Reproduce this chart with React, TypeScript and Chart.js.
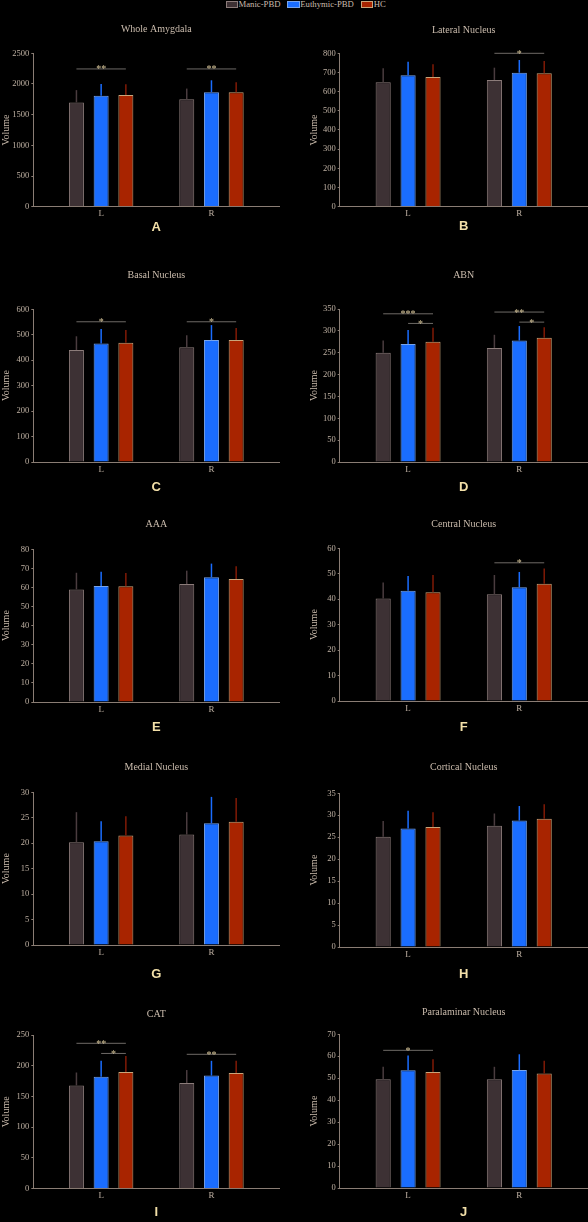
import React, { useEffect, useRef } from 'react';
import { Chart, registerables } from 'chart.js';

Chart.register(...registerables);

// ---------- data ----------
const groups = ['L', 'R'];
const seriesNames = ['Manic-PBD', 'Euthymic-PBD', 'HC'];

const panelLetters = ['A', 'B', 'C', 'D', 'E', 'F', 'G', 'H', 'I', 'J'];
const panelTitles = [
  'Whole Amygdala', 'Lateral Nucleus', 'Basal Nucleus', 'ABN', 'AAA',
  'Central Nucleus', 'Medial Nucleus', 'Cortical Nucleus', 'CAT', 'Paralaminar Nucleus',
];
const yMaxes = [2500, 800, 600, 350, 80, 60, 30, 35, 250, 70];
const ySteps = [500, 100, 100, 50, 10, 10, 5, 5, 50, 10];

// means / SDs : [series][group]
const wholeAmygdalaMeans = [[1700, 1750], [1810, 1865], [1820, 1865]];
const wholeAmygdalaSDs = [[200, 175], [190, 195], [175, 165]];
const lateralMeans = [[649, 661], [685, 699], [676, 696]];
const lateralSDs = [[73, 64], [71, 66], [67, 64]];
const basalMeans = [[440, 451], [466, 479], [469, 479]];
const basalSDs = [[54, 47], [57, 59], [50, 48]];
const abnMeans = [[250, 261], [270, 278], [275, 284]];
const abnSDs = [[28, 30], [32, 33], [32, 24]];
const aaaMeans = [[59.0, 61.8], [60.8, 65.3], [60.6, 64.4]];
const aaaSDs = [[8.7, 7.0], [7.5, 7.2], [7.0, 6.7]];
const centralMeans = [[40.3, 41.9], [43.3, 44.7], [42.7, 46.1]];
const centralSDs = [[6.3, 7.6], [5.8, 6.0], [6.8, 6.0]];
const medialMeans = [[20.2, 21.7], [20.4, 23.9], [21.5, 24.2]];
const medialSDs = [[5.9, 4.4], [3.9, 5.2], [3.8, 4.7]];
const corticalMeans = [[25.1, 27.6], [27.0, 28.8], [27.3, 29.2]];
const corticalSDs = [[3.6, 2.8], [4.0, 3.3], [3.4, 3.3]];
const catMeans = [[168, 172], [182, 184], [190, 188]];
const catSDs = [[21, 21], [26, 24], [26, 20]];
const paralaminarMeans = [[49.5, 49.5], [53.6, 53.7], [52.8, 52.2]];
const paralaminarSDs = [[5.7, 5.7], [6.8, 7.2], [5.8, 5.8]];

// significance brackets: [group, fromSeries, toSeries, height, label]
const wholeAmygdalaSig = [[0, 0, 2, 2245, '**'], [1, 0, 2, 2245, '**']];
const lateralSig = [[1, 0, 2, 800, '*']];
const basalSig = [[0, 0, 2, 551, '*'], [1, 0, 2, 551, '*']];
const abnSig = [[0, 0, 2, 339, '***'], [0, 1, 2, 317, '*'], [1, 0, 2, 343, '**'], [1, 1, 2, 320, '*']];
const aaaSig: any[] = [];
const centralSig = [[1, 0, 2, 54.3, '*']];
const medialSig: any[] = [];
const corticalSig: any[] = [];
const catSig = [[0, 0, 2, 236.5, '**'], [0, 1, 2, 220, '*'], [1, 0, 2, 218.6, '**']];
const paralaminarSig = [[0, 0, 2, 62.7, '*']];

const allMeans = [wholeAmygdalaMeans, lateralMeans, basalMeans, abnMeans, aaaMeans, centralMeans, medialMeans, corticalMeans, catMeans, paralaminarMeans];
const allSDs = [wholeAmygdalaSDs, lateralSDs, basalSDs, abnSDs, aaaSDs, centralSDs, medialSDs, corticalSDs, catSDs, paralaminarSDs];
const allSig = [wholeAmygdalaSig, lateralSig, basalSig, abnSig, aaaSig, centralSig, medialSig, corticalSig, catSig, paralaminarSig];

// ---------- style ----------
const seriesFill = ['#3d3134', '#1a6dff', '#a82400'];
const seriesBorder = ['#8c7c7a', '#78a4ea', '#c9a57a'];
const seriesError = ['#4a3c3f', '#1a6dff', '#801a06'];
const AXIS = '#8a7d74';
const TEXT = '#cbbcad';
const TICK = '#bfb1a3';
const LETTER = '#f2dfa8';
const STAR = '#d8c69a';
const SIGLINE = '#6e6a66';
const SERIF = "'Liberation Serif', 'Times New Roman', serif";
const SANS = "'Liberation Sans', Arial, sans-serif";

// ---------- layout ----------
const W = 294;
const COLS = [
  { x: 0, left: 33.3, right: 279.3, volX: 6.4 },
  { x: 294, left: 45.7, right: 293.7, volX: 19.9 },
];
const panelLayout = [
  { col: 0, titleY: 29.5, top: 53.3, bottom: 206.7, letterY: 227 },
  { col: 1, titleY: 30, top: 53.3, bottom: 206.7, letterY: 226.7 },
  { col: 0, titleY: 275, top: 309.3, bottom: 462, letterY: 487 },
  { col: 1, titleY: 275, top: 309, bottom: 462, letterY: 487 },
  { col: 0, titleY: 524.3, top: 549.3, bottom: 702, letterY: 727 },
  { col: 1, titleY: 524.3, top: 548.3, bottom: 701, letterY: 727 },
  { col: 0, titleY: 767.3, top: 792.3, bottom: 945, letterY: 974.3 },
  { col: 1, titleY: 767.3, top: 793.3, bottom: 947, letterY: 974 },
  { col: 0, titleY: 1014, top: 1035, bottom: 1188.7, letterY: 1212.7 },
  { col: 1, titleY: 1012.7, top: 1034.3, bottom: 1188, letterY: 1212.7 },
];
const TITLE_FS = 10, TITLE_LH = 12;
const LETTER_FS = 13, LETTER_LH = 15.6;
const VOL_LH = 12;
const X_MARGIN = 0.615;

function Panel({ idx }: { idx: number }) {
  const ref = useRef<HTMLCanvasElement>(null);
  const lay = panelLayout[idx];
  const col = COLS[lay.col];
  const canvasTop = Math.floor(lay.titleY - TITLE_LH / 2 - 2);
  const titlePadTop = lay.titleY - canvasTop - TITLE_LH / 2;
  const titlePadBottom = lay.top - canvasTop - titlePadTop - TITLE_LH;
  const xH = lay.letterY - lay.bottom + LETTER_LH / 2 + 2;
  const H = Math.ceil(lay.bottom - canvasTop + xH + 1);
  const padBottom = H - xH - (lay.bottom - canvasTop);
  const padLeft = col.volX - VOL_LH / 2;
  const yW = col.left - padLeft;
  const padRight = W - col.right;

  useEffect(() => {
    const means = allMeans[idx];
    const sds = allSDs[idx];
    const sig = allSig[idx];

    const errorBars = {
      id: 'errorBars',
      afterDatasetsDraw(chart: any) {
        const ctx = chart.ctx;
        const ys = chart.scales.y;
        means.forEach((arr: number[], s: number) => {
          const meta = chart.getDatasetMeta(s);
          meta.data.forEach((bar: any, g: number) => {
            const top = ys.getPixelForValue(arr[g] + sds[s][g]);
            ctx.save();
            ctx.strokeStyle = seriesError[s];
            ctx.lineWidth = 1.5;
            ctx.beginPath();
            ctx.moveTo(bar.x, bar.y);
            ctx.lineTo(bar.x, top);
            ctx.stroke();
            ctx.restore();
          });
        });
      },
    };

    const brackets = {
      id: 'brackets',
      afterDatasetsDraw(chart: any) {
        const ctx = chart.ctx;
        const ys = chart.scales.y;
        sig.forEach((b: any[]) => {
          const [g, from, to, h, label] = b;
          const x1 = chart.getDatasetMeta(from).data[g].x;
          const x2 = chart.getDatasetMeta(to).data[g].x;
          const yp = ys.getPixelForValue(h);
          ctx.save();
          ctx.strokeStyle = SIGLINE;
          ctx.lineWidth = 1;
          ctx.beginPath();
          ctx.moveTo(x1, yp);
          ctx.lineTo(x2, yp);
          ctx.stroke();
          ctx.fillStyle = STAR;
          ctx.font = `10px ${SERIF}`;
          ctx.textAlign = 'center';
          ctx.textBaseline = 'alphabetic';
          ctx.fillText(label, (x1 + x2) / 2, yp + 3.5);
          ctx.restore();
        });
      },
    };

    const chart = new Chart(ref.current as HTMLCanvasElement, {
      type: 'bar',
      data: {
        datasets: seriesNames.map((name, s) => ({
          label: name,
          data: means[s].map((v: number, g: number) => ({ x: g + 1, y: v })),
          backgroundColor: seriesFill[s],
          borderColor: seriesBorder[s],
          borderWidth: 1,
          categoryPercentage: 0.672,
          barPercentage: 0.607,
        })),
      },
      options: {
        responsive: false,
        animation: false,
        events: [],
        layout: { padding: { top: 0, left: padLeft, right: padRight, bottom: padBottom } },
        plugins: {
          legend: { display: false },
          tooltip: { enabled: false },
          title: {
            display: true,
            text: panelTitles[idx],
            color: TEXT,
            fullSize: false,
            font: { family: SERIF, size: TITLE_FS, weight: 'normal', lineHeight: TITLE_LH / TITLE_FS },
            padding: { top: titlePadTop, bottom: titlePadBottom },
          },
        },
        scales: {
          x: {
            type: 'linear',
            min: 1 - X_MARGIN,
            max: groups.length + X_MARGIN,
            offset: false,
            afterBuildTicks: (scale: any) => {
              scale.ticks = groups.map((_, i) => ({ value: i + 1 }));
            },
            afterFit: (scale: any) => { scale.height = xH; },
            grid: { display: false, drawTicks: false, offset: false },
            border: { display: true, color: AXIS, width: 1 },
            ticks: {
              color: TICK,
              padding: 2,
              font: { family: SERIF, size: 9 },
              callback: (v: any) => groups[Math.round(Number(v)) - 1] ?? '',
            },
            title: {
              display: true,
              text: panelLetters[idx],
              color: LETTER,
              font: { family: SANS, size: LETTER_FS, weight: 'bold', lineHeight: LETTER_LH / LETTER_FS },
              padding: { top: 0, bottom: 2 },
            },
          },
          y: {
            min: 0,
            max: yMaxes[idx],
            afterFit: (scale: any) => { scale.width = yW; },
            grid: { display: true, drawOnChartArea: false, drawTicks: true, tickLength: 2, color: AXIS },
            border: { display: true, color: AXIS, width: 1 },
            ticks: {
              stepSize: ySteps[idx],
              color: TICK,
              padding: 2,
              font: { family: SERIF, size: 8.5 },
              callback: (v: any) => String(v),
            },
            title: {
              display: true,
              text: 'Volume',
              color: TEXT,
              font: { family: SERIF, size: 10, lineHeight: VOL_LH / 10 },
              padding: { top: 0, bottom: 0 },
            },
          },
        },
      },
      plugins: [errorBars, brackets],
    } as any);
    return () => chart.destroy();
  }, [idx]);

  return (
    <canvas
      ref={ref}
      width={W}
      height={H}
      style={{ position: 'absolute', left: col.x, top: canvasTop, width: W, height: H }}
    />
  );
}

function Legend() {
  return (
    <div
      style={{
        position: 'absolute', left: 225.7, top: 0, height: 9, display: 'flex', alignItems: 'center',
        fontFamily: SERIF, fontSize: 8.7, color: TEXT, lineHeight: '9px', whiteSpace: 'nowrap',
      }}
    >
      {seriesNames.map((n, i) => (
        <div key={n} style={{ display: 'flex', alignItems: 'center', marginRight: 7 }}>
          <span
            style={{
              display: 'inline-block', width: 12.3, height: 7, background: seriesFill[i],
              border: `1px solid ${seriesBorder[i]}`, boxSizing: 'border-box', marginRight: 0.5,
            }}
          />
          <span>{n}</span>
        </div>
      ))}
    </div>
  );
}

export default function App() {
  useEffect(() => {
    document.body.style.background = '#000';
    document.body.style.margin = '0';
  }, []);
  return (
    <div style={{ position: 'absolute', left: 0, top: 0, width: 588, height: 1222, background: '#000', overflow: 'hidden' }}>
      <Legend />
      {panelLayout.map((_, i) => (
        <Panel key={i} idx={i} />
      ))}
    </div>
  );
}
